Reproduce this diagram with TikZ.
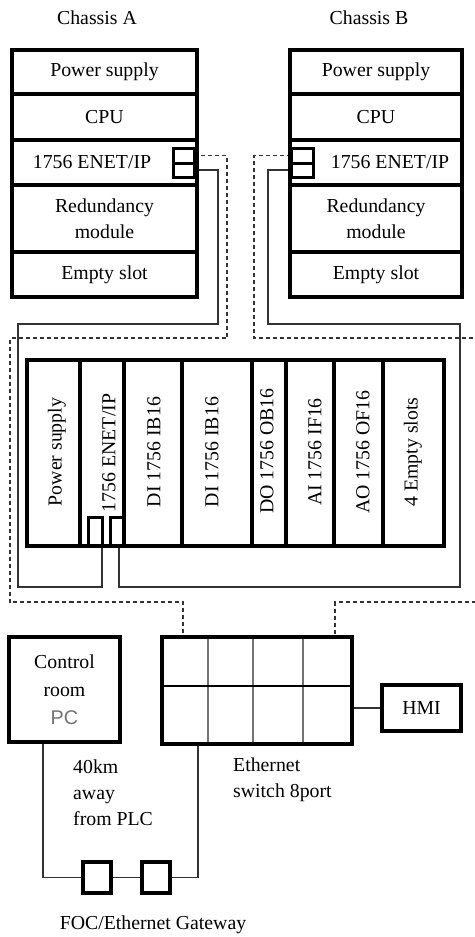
\documentclass[tikz,border=0pt]{standalone}
\usepackage{fontspec}
\setmainfont{Liberation Serif}
\setsansfont{Liberation Sans}
\usetikzlibrary{calc,backgrounds}
\newcommand\dfont{\fontsize{19.8}{26}\selectfont}
\begin{document}
\begin{tikzpicture}[x=1pt,y=-1pt,
  box/.style={draw, line width=3.4pt, inner sep=0pt, outer sep=0pt, anchor=north west, align=center, font=\dfont},
  port/.style={draw, line width=3pt, inner sep=0pt, outer sep=0pt, anchor=north west},
  txt/.style={inner sep=0pt, font=\dfont, align=center},
  wire/.style={draw=black!80, line width=1.2pt},
  dwire/.style={wire, dash pattern=on 4pt off 3pt},
  inner/.style={draw=black!55, line width=1.5pt}
]
\useasboundingbox (0,0) rectangle (474,937);
\clip (0,0) rectangle (474,937);

% Chassis A
\node[txt] (cha) at (97,18) {Chassis A};
\node[box, minimum width=185pt, minimum height=44pt] (a1) at (12,50) {Power supply};
\node[box, minimum width=185pt, minimum height=46pt] (a2) at (12,94) {CPU};
\node[box, minimum width=185pt, minimum height=45pt] (a3) at (12,140) {};
\node[txt] (a3t) at (92,162.5) {1756 ENET/IP};
\node[box, minimum width=185pt, minimum height=67pt] (a4) at (12,185) {Redundancy\\module};
\node[box, minimum width=185pt, minimum height=45pt] (a5) at (12,252) {Empty slot};
\node[port, minimum width=21pt, minimum height=15pt] (ap1) at (173,148) {};
\node[port, minimum width=21pt, minimum height=14pt] (ap2) at (173,163) {};

% Chassis B
\node[txt] (chb) at (369,18) {Chassis B};
\node[box, minimum width=172pt, minimum height=44pt] (b1) at (290,50) {Power supply};
\node[box, minimum width=172pt, minimum height=46pt] (b2) at (290,94) {CPU};
\node[box, minimum width=172pt, minimum height=45pt] (b3) at (290,140) {};
\node[txt] (b3t) at (390,162.5) {1756 ENET/IP};
\node[box, minimum width=172pt, minimum height=67pt] (b4) at (290,185) {Redundancy\\module};
\node[box, minimum width=172pt, minimum height=45pt] (b5) at (290,252) {Empty slot};
\node[port, minimum width=22pt, minimum height=15pt] (bp1) at (291,148) {};
\node[port, minimum width=22pt, minimum height=14pt] (bp2) at (291,163) {};

% Main rack
\node[box, minimum width=53pt, minimum height=186pt] (m1) at (27,360) {};
\node[box, minimum width=44pt, minimum height=186pt] (m2) at (80,360) {};
\node[box, minimum width=58pt, minimum height=186pt] (m3) at (124,360) {};
\node[box, minimum width=70pt, minimum height=186pt] (m4) at (182,360) {};
\node[box, minimum width=34pt, minimum height=186pt] (m5) at (252,360) {};
\node[box, minimum width=48pt, minimum height=186pt] (m6) at (286,360) {};
\node[box, minimum width=49pt, minimum height=186pt] (m7) at (334,360) {};
\node[box, minimum width=61pt, minimum height=186pt] (m8) at (383,360) {};
\node[txt, rotate=90] (m1t) at (57,452) {Power supply};
\node[txt, rotate=90] (m2t) at (109,453) {1756 ENET/IP};
\node[txt, rotate=90] (m3t) at (154,452) {DI 1756 IB16};
\node[txt, rotate=90] (m4t) at (212,452) {DI 1756 IB16};
\node[txt, rotate=90] (m5t) at (267,451) {DO 1756 OB16};
\node[txt, rotate=90] (m6t) at (315,452) {AI 1756 IF16};
\node[txt, rotate=90] (m7t) at (363,452) {AO 1756 OF16};
\node[txt, rotate=90] (m8t) at (413,452) {4 Empty slots};
\node[port, minimum width=14pt, minimum height=28pt] (rp1) at (88,517) {};
\node[port, minimum width=13pt, minimum height=28pt] (rp2) at (110,517) {};

% Bottom
\node[box, minimum width=111pt, minimum height=105pt] (cr) at (9,637) {Control\\[2pt]room\\[2pt]{\sffamily\color{black!55}PC}};
\node[box, minimum width=190pt, minimum height=107pt] (sw) at (162,637) {};
\node[box, minimum width=79pt, minimum height=46pt] (hmi) at (382,685) {HMI};
\node[port, line width=3.4pt, minimum width=28pt, minimum height=31pt] (g1) at (83,862) {};
\node[port, line width=3.4pt, minimum width=28pt, minimum height=31pt] (g2) at (142,862) {};

\node[txt, align=left, anchor=west] (dist) at (73,793) {40km\\away\\from PLC};
\node[txt, align=left, anchor=west] (swl) at (233,780) {Ethernet\\switch 8port};
\node[txt] (gwl) at (153,925) {FOC/Ethernet Gateway};

\begin{scope}[on background layer]
  \draw[inner] ($(sw.north west)+(46,0)$) -- ($(sw.south west)+(46,0)$);
  \draw[inner] ($(sw.north west)+(91,0)$) -- ($(sw.south west)+(91,0)$);
  \draw[inner] ($(sw.north west)+(141,0)$) -- ($(sw.south west)+(141,0)$);
  \draw[line width=1.2pt] ($(sw.west)+(0,-4.5)$) -- ($(sw.east)+(0,-4.5)$);

  \draw[wire] (ap2.east) -| (218,324) -| (18,587) -| (rp1.south east);
  \draw[dwire] (ap1.east) -| (227,338) -| (10,602) -| ($(sw.north west)+(21,0)$);
  \draw[wire] (bp2.west) -| (268,324) -| (460,587) -| ($(rp2.south)+(2.5,0)$);
  \draw[dwire] (bp1.west) -| (254,338) -| (480,602) -| ($(sw.north west)+(173,0)$);

  \draw[wire] (hmi.west) -- (hmi.west -| sw.east);
  \draw[wire] ($(cr.south west)+(34,0)$) |- (g1.west);
  \draw[wire] (g1.east) -- (g2.west);
  \draw[wire] (g2.east) -| ($(sw.south west)+(36,0)$);
\end{scope}
\end{tikzpicture}
\end{document}
